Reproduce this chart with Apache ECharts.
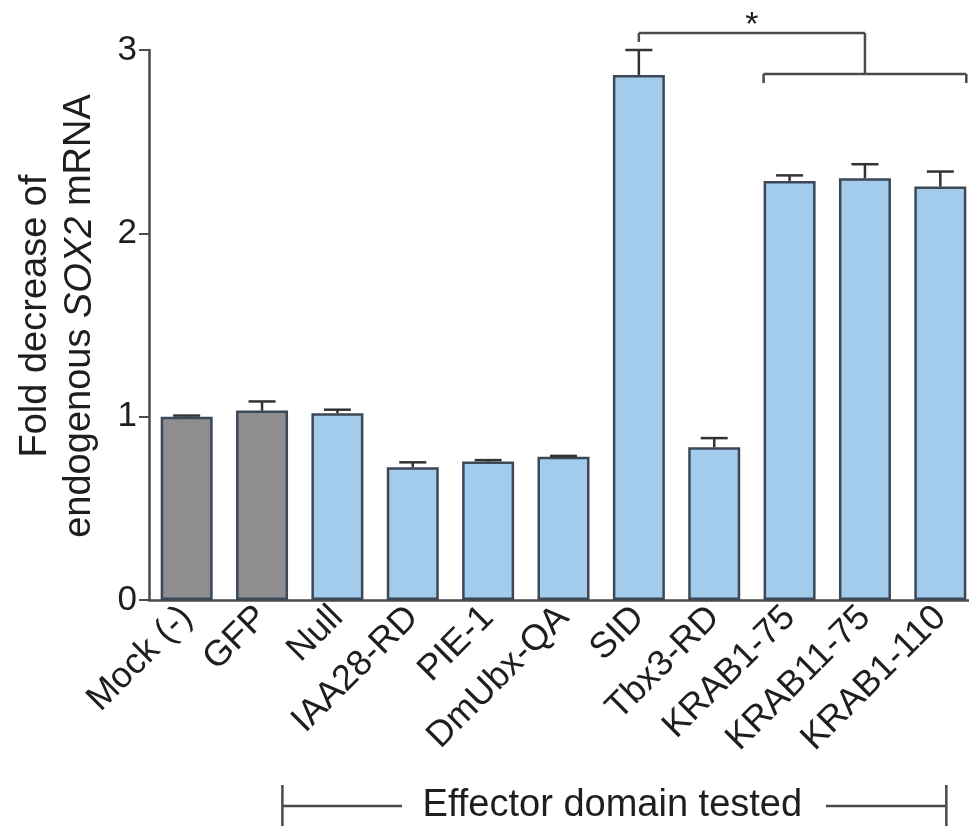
<!DOCTYPE html>
<html><head><meta charset="utf-8">
<script src="https://cdn.jsdelivr.net/npm/echarts@6/dist/echarts.min.js"></script>
<style>html,body{margin:0;padding:0;background:#fff;overflow:hidden}#c{width:980px;height:826px}</style>
</head><body><div id="c"></div>
<script>
const categories = ['Mock (-)','GFP','Null','IAA28-RD','PIE-1','DmUbx-QA','SID','Tbx3-RD','KRAB1-75','KRAB11-75','KRAB1-110'];
const meanValues = [1.00, 1.033, 1.018, 0.724, 0.755, 0.782, 2.864, 0.833, 2.286, 2.300, 2.255];
const errValues  = [0.006, 0.05, 0.02, 0.027, 0.008, 0.004, 0.136, 0.05, 0.03, 0.077, 0.082];
const isControl  = [true, true, false, false, false, false, false, false, false, false, false];
const yTicks = [0, 1, 2, 3];
const yTitleLine1 = 'Fold decrease of';
const yTitleLine2 = ['endogenous ', 'SOX2', ' mRNA'];
const groupLabel = 'Effector domain tested';
const sigLabel = '*';
// significance bracket (data units)
const sigFrom = 'SID', sigTo = 'KRAB11-75';
const sigGroupFrom = 'KRAB1-75', sigGroupTo = 'KRAB1-110';
const sigTopY = 3.093, sigTopTickY = 3.044, sigLowY = 2.869, sigLowTickY = 2.82, starY = 3.19;

const FONT = '"Liberation Sans", Arial, Helvetica, sans-serif';
const GREY = '#8e8e91', BLUE = '#a2cbec', EDGE = '#3d4856', AX = '#4a4a4a', TXT = '#1e1e1e';

const chart = echarts.init(document.getElementById('c'), null, {renderer:'canvas', width:980, height:826});
const barData = meanValues.map((v,i)=>({value:v, itemStyle:{color: isControl[i]?GREY:BLUE}}));
const errData = categories.map((c,i)=>[i, meanValues[i], errValues[i]]);

chart.setOption({
  animation:false,
  backgroundColor:'#fff',
  grid:{left:149, top:50, width:829, height:550, containLabel:false},
  xAxis:{
    type:'category', data:categories,
    axisLine:{lineStyle:{color:AX, width:2.5}},
    axisTick:{alignWithLabel:true, length:9, lineStyle:{color:AX, width:2}},
    axisLabel:{rotate:45, interval:0, fontSize:36, color:TXT, fontFamily:FONT, margin:12}
  },
  yAxis:{
    type:'value', min:yTicks[0], max:yTicks[yTicks.length-1], interval:1,
    axisLine:{show:true, lineStyle:{color:AX, width:2.5}},
    axisTick:{show:true, length:10, lineStyle:{color:AX, width:2}},
    splitLine:{show:false},
    axisLabel:{fontSize:35, color:TXT, fontFamily:FONT, margin:12}
  },
  series:[
    {type:'bar', data:barData, barWidth:52, itemStyle:{borderColor:EDGE, borderWidth:2.5}, z:2},
    {type:'custom', data:errData, encode:{x:0,y:1}, z:3,
     renderItem:function(params, api){
       const x = api.value(0), m = api.value(1), e = api.value(2);
       const base = api.coord([x, m]); const top = api.coord([x, m+e]);
       const half = 13.5;
       return {type:'group', children:[
         {type:'line', shape:{x1:base[0],y1:base[1],x2:top[0],y2:top[1]}, style:{stroke:'#333',lineWidth:2.5}},
         {type:'line', shape:{x1:top[0]-half,y1:top[1],x2:top[0]+half,y2:top[1]}, style:{stroke:'#333',lineWidth:2.5}}
       ]};
     }}
  ]
});

function P(cat, val){ return chart.convertToPixel({gridIndex:0}, [categories.indexOf(cat), val]); }
const band = P(categories[1],0)[0] - P(categories[0],0)[0];
const halfBar = 26;
const ls = {stroke:AX, lineWidth:2.5, fill:null};
function seg(x1,y1,x2,y2){ return {type:'line', shape:{x1,y1,x2,y2}, style:ls, z:10}; }

const a = P(sigFrom, sigTopY), b = P(sigTo, sigTopY);
const aT = P(sigFrom, sigTopTickY);
const lowL = P(sigGroupFrom, sigLowY), lowR = P(sigGroupTo, sigLowY), lowT = P(sigGroupFrom, sigLowTickY);
const star = P(sigFrom, starY);
const bLow = P(sigTo, sigLowY);

const g1 = P('Null', 0), g2 = P('KRAB1-110', 0);
const gL = g1[0] - 0.73*band, gR = g2[0] + 6;
const gy = 806;

chart.setOption({graphic:[
  seg(a[0], a[1], b[0], b[1]),
  seg(a[0], a[1], a[0], aT[1]),
  seg(b[0], b[1], b[0], bLow[1]),
  seg(lowL[0]-halfBar, lowL[1], lowR[0]+halfBar, lowR[1]),
  seg(lowL[0]-halfBar, lowL[1], lowL[0]-halfBar, lowT[1]),
  seg(lowR[0]+halfBar, lowR[1], lowR[0]+halfBar, lowT[1]),
  {type:'text', x:(a[0]+b[0])/2, y:star[1]+10, style:{text:sigLabel, fontSize:34, fontFamily:FONT, fill:TXT, align:'center', verticalAlign:'middle'}},
  {type:'text', x:58, y:316, rotation:Math.PI/2, style:{
    text:'{a|'+yTitleLine1+'}\n{a|'+yTitleLine2[0]+'}{i|'+yTitleLine2[1]+'}{a|'+yTitleLine2[2]+'}',
    align:'center', verticalAlign:'middle',
    rich:{a:{fontSize:38, fontFamily:FONT, fill:TXT, lineHeight:44}, i:{fontSize:38, fontFamily:FONT, fill:TXT, fontStyle:'italic', lineHeight:44}}
  }},
  {type:'text', x:(gL+gR)/2 - 2, y:gy, style:{text:groupLabel, fontSize:38, fontFamily:FONT, fill:TXT, align:'center', verticalAlign:'middle'}},
  seg(gL, gy, 402, gy),
  seg(826, gy, gR, gy),
  seg(gL, gy-21, gL, gy+22),
  seg(gR, gy-21, gR, gy+22)
]});
</script></body></html>
